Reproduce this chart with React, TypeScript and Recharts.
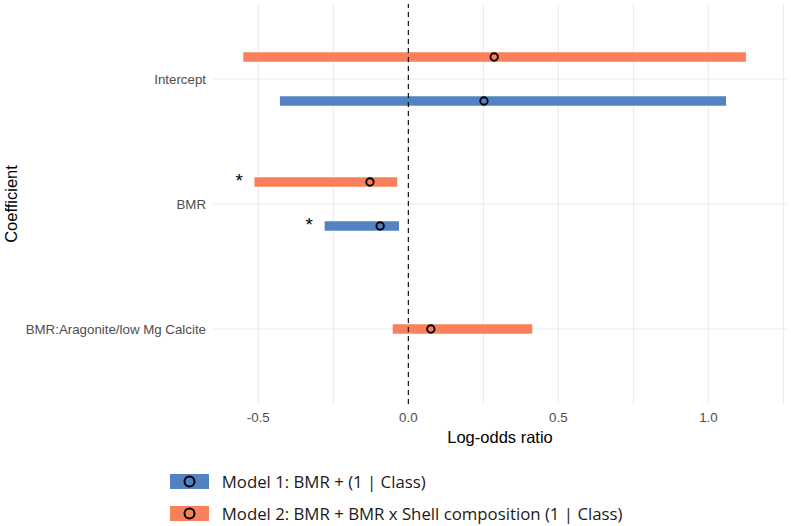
import React from 'react';
import { ComposedChart, Line, Scatter, XAxis, YAxis, ReferenceLine } from 'recharts';

// Coefficients from bottom (1) to top (3)
const coefficients = ['BMR:Aragonite/low Mg Calcite', 'BMR', 'Intercept'];
const modelNames = ['Model 1: BMR + (1 | Class)', 'Model 2: BMR + BMR x Shell composition (1 | Class)'];
const modelColors = ['#5282C2', '#F8805A'];

const model1Coef = ['Intercept', 'BMR'];
const model1Est = [0.252, -0.094];
const model1Low = [-0.428, -0.279];
const model1High = [1.059, -0.031];
const model1Sig = [false, true];

const model2Coef = ['Intercept', 'BMR', 'BMR:Aragonite/low Mg Calcite'];
const model2Est = [0.286, -0.128, 0.075];
const model2Low = [-0.55, -0.513, -0.052];
const model2High = [1.125, -0.037, 0.413];
const model2Sig = [false, true, false];

const xTicks = [-0.5, -0.25, 0, 0.25, 0.5, 0.75, 1, 1.25];
const xTickLabels = ['-0.5', '', '0.0', '', '0.5', '', '1.0', ''];
const yTicks = [1, 2, 3];

const X_DOMAIN: [number, number] = [-0.651, 1.262];
const Y_DOMAIN: [number, number] = [0.4, 3.6];
const DODGE = 0.176;
const STAR_GAP = 0.051;

type Row = { model: number; coef: string; x: number; y: number; low: number; high: number; sig: boolean };

const modelsData = [
  { coef: model1Coef, est: model1Est, low: model1Low, high: model1High, sig: model1Sig },
  { coef: model2Coef, est: model2Est, low: model2Low, high: model2High, sig: model2Sig },
];

const rows: Row[] = [];
modelsData.forEach((m, mi) => {
  m.coef.forEach((c, i) => {
    const count = modelsData.filter((mm) => mm.coef.includes(c)).length;
    const offset = count > 1 ? (mi === 0 ? -DODGE : DODGE) : 0;
    rows.push({
      model: mi,
      coef: c,
      x: m.est[i],
      y: coefficients.indexOf(c) + 1 + offset,
      low: m.low[i],
      high: m.high[i],
      sig: m.sig[i],
    });
  });
});

const pointShape = (color: string) => (props: any) => (
  <circle cx={props.cx} cy={props.cy} r={3.7} fill={color} stroke="#000" strokeWidth={1.9} />
);

const starShape = (props: any) => (
  <text
    x={props.cx}
    y={props.cy + 5.3}
    textAnchor="middle"
    fontSize={19}
    fontFamily="'Liberation Sans', Arial, sans-serif"
    fill="#000"
  >
    *
  </text>
);

const tickFont = "'Liberation Sans', Arial, sans-serif";

export default function App() {
  const stars = rows.filter((r) => r.sig).map((r) => ({ x: r.low - STAR_GAP, y: r.y }));
  return (
    <div style={{ position: 'absolute', left: 0, top: 0, width: 791, height: 526, background: '#fff' }}>
      <ComposedChart width={791} height={526} margin={{ top: 4, right: 4, bottom: 0, left: 0 }}>
        <XAxis
          type="number"
          dataKey="x"
          domain={X_DOMAIN}
          allowDataOverflow
          ticks={xTicks}
          interval={0}
          tickFormatter={(v: number) => xTickLabels[xTicks.indexOf(v)] ?? ''}
          axisLine={false}
          tickLine={false}
          tickSize={0}
          tickMargin={9}
          height={122}
          tick={{ fill: '#4D4D4D', fontSize: 13.3, fontFamily: tickFont }}
          label={{
            content: (p: any) => {
              const vb = p.viewBox;
              return (
                <text
                  x={vb.x + vb.width / 2}
                  y={442.5}
                  textAnchor="middle"
                  fontSize={16.5}
                  fontFamily={tickFont}
                  fill="#000"
                >
                  Log-odds ratio
                </text>
              );
            },
          }}
        />
        <YAxis
          type="number"
          dataKey="y"
          domain={Y_DOMAIN}
          allowDataOverflow
          ticks={yTicks}
          interval={0}
          tickFormatter={(v: number) => coefficients[v - 1] ?? ''}
          axisLine={false}
          tickLine={false}
          tickSize={0}
          tickMargin={7}
          width={213}
          tick={{ fill: '#4D4D4D', fontSize: 13.3, fontFamily: tickFont }}
          label={{
            content: (p: any) => {
              const vb = p.viewBox;
              const cy = vb.y + vb.height / 2;
              return (
                <text
                  x={16.7}
                  y={cy}
                  transform={`rotate(-90, 16.7, ${cy})`}
                  textAnchor="middle"
                  fontSize={16.5}
                  fontFamily={tickFont}
                  fill="#000"
                >
                  Coefficient
                </text>
              );
            },
          }}
        />
        {xTicks.map((t) => (
          <ReferenceLine key={`gx-${t}`} x={t} stroke="#EBEBEB" strokeWidth={1.1} />
        ))}
        {yTicks.map((t) => (
          <ReferenceLine key={`gy-${t}`} y={t} stroke="#EBEBEB" strokeWidth={1.1} />
        ))}
        {rows.map((r, i) => (
          <Line
            key={`bar-${i}`}
            data={[
              { x: r.low, y: r.y },
              { x: r.high, y: r.y },
            ]}
            dataKey="y"
            stroke={modelColors[r.model]}
            strokeWidth={9.7}
            strokeLinecap="butt"
            dot={false}
            activeDot={false}
            isAnimationActive={false}
            legendType="none"
          />
        ))}
        <ReferenceLine x={0} stroke="#000" strokeWidth={1.1} strokeDasharray="5 4" />
        {modelsData.map((_, mi) => (
          <Scatter
            key={`pts-${mi}`}
            data={rows.filter((r) => r.model === mi).map((r) => ({ x: r.x, y: r.y }))}
            shape={pointShape(modelColors[mi])}
            isAnimationActive={false}
          />
        ))}
        <Scatter data={stars} shape={starShape} isAnimationActive={false} />
      </ComposedChart>
      {modelNames.map((name, mi) => (
        <div
          key={name}
          style={{
            position: 'absolute',
            left: 170,
            top: mi === 0 ? 472 : 503.5,
            height: 19,
            display: 'flex',
            alignItems: 'center',
            whiteSpace: 'nowrap',
          }}
        >
          <svg width={39} height={19} style={{ display: 'block' }}>
            <rect x={0} y={2} width={39} height={15} fill={modelColors[mi]} />
            <circle cx={19.5} cy={9.5} r={5} fill={modelColors[mi]} stroke="#000" strokeWidth={2} />
          </svg>
          <span
            style={{
              marginLeft: 12.7,
              fontFamily: "'Open Sans', sans-serif",
              fontSize: 16.8,
              color: '#1A1A1A',
              lineHeight: '19px',
            }}
          >
            {name}
          </span>
        </div>
      ))}
    </div>
  );
}
